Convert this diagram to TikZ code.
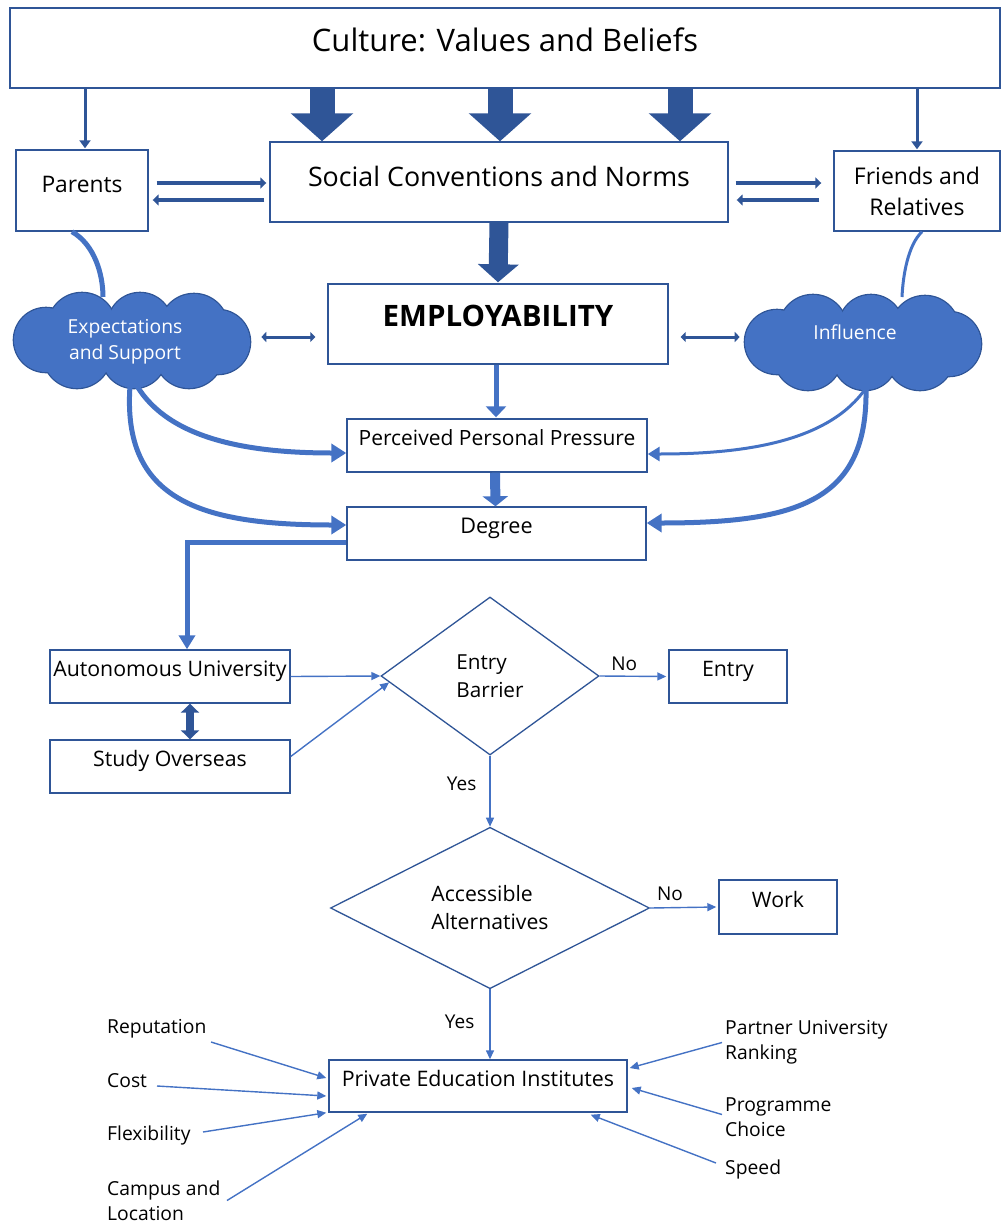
\documentclass[tikz,border=0pt]{standalone}
\usepackage{fontspec}
\setmainfont{Open Sans}
\usetikzlibrary{arrows.meta,shapes.geometric,calc}
\definecolor{navy}{HTML}{2F5597}
\definecolor{mid}{HTML}{4472C4}

\begin{document}
\begin{tikzpicture}[x=1pt,y=-1pt,
  fs/.style 2 args={font=\fontsize{#1}{#2}\selectfont},
  box/.style={draw=navy, line width=1.4pt, fill=white, inner sep=0pt,
    align=center, text height=10pt, text depth=10pt},
  drop/.style={text height=10pt+#1, text depth=10pt-#1},
  mlbox/.style={draw=navy, line width=1.4pt, fill=white, inner sep=0pt, align=center},
  cloudtext/.style={text=white, inner sep=0pt, align=center, fs={19.3}{26}},
  gate/.style={diamond, draw=navy, line width=1.3pt, fill=white, inner sep=0pt, align=left},
  lbl/.style={inner sep=0pt, align=left, anchor=west, fs={19.3}{25}},
  yn/.style={inner sep=0pt, fs={19}{22}},
  bigarrow/.style={draw=navy, line width=25pt, -{Triangle[length=28pt,width=61pt]}},
  midarrow/.style={draw=navy, line width=19pt, -{Triangle[length=18pt,width=40pt]}},
  droparrow/.style={draw=navy, line width=3pt, -{Triangle[length=8pt,width=11pt]}},
  pairarrow/.style={draw=navy, line width=4.5pt, -{Triangle[length=6pt,width=11pt]}},
  twoway/.style={draw=navy, line width=3pt, {Triangle[length=5pt,width=10pt]}-{Triangle[length=5pt,width=10pt]}},
  tie/.style={draw=mid, line width=5pt},
  curvearrow/.style={draw=mid, line width=5pt, -{Triangle[length=15pt,width=18pt]}},
  curvethin/.style={draw=mid, line width=3pt, -{Triangle[length=12pt,width=14pt]}},
  flow/.style={draw=mid, line width=1.4pt, -{Triangle[length=9pt,width=8pt]}},
  % a cloud built from overlapping puffs: outline first, then fill over the seams
  cloudblob/.pic={
    \foreach \cx/\cy/\r in {-50/-13/34, 8/-15/32, 62/-12/34, -86/0/32, 86/2/32,
                            -55/14/34, 2/16/32, 57/14/34}
      \filldraw[draw=navy, line width=2.6pt, fill=mid] (\cx,\cy) circle[radius=\r pt];
    \foreach \cx/\cy/\r in {-50/-13/34, 8/-15/32, 62/-12/34, -86/0/32, 86/2/32,
                            -55/14/34, 2/16/32, 57/14/34}
      \fill[mid] (\cx,\cy) circle[radius=\r pt];
    \fill[mid] (0,0) ellipse[x radius=80pt, y radius=30pt];
  },
]
\useasboundingbox (0,0) rectangle (1002,1223);

% ---- top: culture, norms and social circle ----
\node[box, drop=4pt, fs={31}{36}, minimum width=990pt, minimum height=80pt] (culture) at (505,48) {Culture: Values and Beliefs};
\node[box, drop=4pt, fs={26.8}{32}, minimum width=458pt, minimum height=80pt] (social) at (499,182) {Social Conventions and Norms};
\node[box, drop=2pt, fs={22.8}{26}, minimum width=132pt, minimum height=81pt] (parents) at (82,190.5) {Parents};
\node[mlbox, fs={23}{31}, minimum width=166pt, minimum height=80pt] (friends) at (917,191) {Friends and\\Relatives};

\draw[bigarrow] ($(culture.south)+(-183,0)$) -- ($(social.north)+(-177,0)$);
\draw[bigarrow] ($(culture.south)+(-5,0)$) -- ($(social.north)+(1,0)$);
\draw[bigarrow] ($(culture.south)+(175,0)$) -- ($(social.north)+(181,0)$);
\draw[droparrow] ($(culture.south -| parents.north)+(3,0)$) -- ($(parents.north)+(3,-1)$);
\draw[droparrow] (culture.south -| friends.north) -- ($(friends.north)+(0,-1)$);

\draw[pairarrow] ($(parents.east)+(8,-7.5)$) -- ($(social.west |- parents.east)+(-3,-7.5)$);
\draw[pairarrow] ($(social.west |- parents.east)+(-5,9.5)$) -- ($(parents.east)+(4,9.5)$);
\draw[pairarrow] ($(social.east |- friends.west)+(7,-8)$) -- ($(friends.west)+(-12,-8)$);
\draw[pairarrow] ($(friends.west)+(-14,9)$) -- ($(social.east |- friends.west)+(8,9)$);

% ---- employability and the two clouds ----
\node[box, drop=2pt, font=\bfseries\fontsize{29.5}{34}\selectfont, minimum width=340pt, minimum height=80pt] (employ) at (498,324) {EMPLOYABILITY};
\draw[midarrow] (social.south) -- ($(employ.north)+(0,-1)$);

\coordinate (lc) at (132,340);
\coordinate (rc) at (863,342);
\pic at (lc) {cloudblob};
\pic at (rc) {cloudblob};
\node[cloudtext] (lcloud) at ($(lc)+(-7,2)$) {Expectations\\and Support};
\node[cloudtext] (rcloud) at ($(rc)+(-8,-10)$) {Influence};

\draw[tie] ($(parents.south)+(-10,0)$) .. controls (95,245) and (103,275) .. ($(lc)+(-29,-43)$);
\draw[draw=mid, line width=3pt] ($(friends.south)+(5,0)$) .. controls (908,245) and (903,275) .. ($(rc)+(39,-45)$);

\draw[twoway] ($(employ.west)+(-66,13)$) -- ($(employ.west)+(-12,13)$);
\draw[twoway] ($(employ.east)+(12,13)$) -- ($(employ.east)+(71,13)$);

% ---- pressure and degree ----
\node[box, fs={21}{24}, minimum width=300pt, minimum height=53pt] (pressure) at (497,445.5) {Perceived Personal Pressure};
\node[box, fs={21.6}{24}, minimum width=299pt, minimum height=53pt] (degree) at (496.5,533.5) {Degree};

\draw[draw=mid, line width=5pt, -{Triangle[length=11pt,width=20pt]}] ($(employ.south)+(-2,0)$) -- ($(pressure.north)+(-1,-1)$);
\draw[draw=mid, line width=10pt, -{Triangle[length=10pt,width=25pt]}] ($(pressure.south)+(-2,0)$) -- ($(degree.north)+(-1,0)$);

\draw[curvearrow] ($(lc)+(5,46)$) .. controls (170,440) and (250,453) .. ($(pressure.west)+(0,7.5)$);
\draw[curvearrow] ($(lc)+(-2,46)$) .. controls (122,500) and (200,525) .. ($(degree.west)+(0,-8.5)$);
\draw[curvethin] ($(rc)+(3,46)$) .. controls (830,440) and (750,454) .. ($(pressure.east)+(0,8.5)$);
\draw[curvearrow] ($(rc)+(3,46)$) .. controls (868,500) and (800,523) .. ($(degree.east)+(0,-10.5)$);

% ---- university routes ----
\node[box, fs={21.3}{24}, minimum width=240pt, minimum height=53pt] (auto) at (170,676.5) {Autonomous University};
\node[box, fs={21.3}{24}, minimum width=240pt, minimum height=53pt] (study) at (170,766.5) {Study Overseas};
\draw[draw=mid, line width=5pt, -{Triangle[length=14pt,width=16pt]}] ($(degree.west)+(0,8.5)$) -| ($(auto.north)+(17,0)$);
\draw[draw=navy, line width=8pt, {Triangle[length=9pt,width=18pt]}-{Triangle[length=9pt,width=18pt]}] ($(auto.south)+(20,0)$) -- ($(study.north)+(20,0)$);

\node[gate, fs={20.7}{28}, minimum width=218pt, minimum height=158pt] (barrier) at (490,676) {Entry\\Barrier};
\node[box, fs={21.3}{24}, minimum width=118pt, minimum height=53pt] (entry) at (728,676.5) {Entry};
\draw[flow] (auto.east) -- (barrier.west);
\draw[flow] ($(study.east)+(0,-10)$) -- ($(barrier.west)!0.08!(barrier.south)$);
\draw[flow] (barrier.east) -- ($(entry.west)+(-2,0)$) node[yn, pos=0.37, above=5pt] (no1) {No};

\node[gate, fs={21.2}{28}, minimum width=319pt, minimum height=160pt] (access) at (490,908) {Accessible\\Alternatives};
\node[box, fs={21.3}{24}, minimum width=118pt, minimum height=54pt] (work) at (778,907) {Work};
\draw[flow] (barrier.south) -- (access.north) node[yn, pos=0.4, left=13pt] (yes1) {Yes};
\draw[flow] (access.east) -- ($(work.west)+(-2,0)$) node[yn, pos=0.3, above=6pt] (no2) {No};

% ---- private education and its factors ----
\node[box, fs={21.4}{24}, minimum width=298pt, minimum height=52pt] (private) at (478,1086) {Private Education Institutes};
\draw[flow] (access.south) -- (access.south |- private.north) node[yn, pos=0.47, left=15pt] (yes2) {Yes};

\node[lbl] (rep) at (107,1029) {Reputation};
\node[lbl] (cost) at (107,1081) {Cost};
\node[lbl] (flex) at (107,1135) {Flexibility};
\node[lbl] (campus) at (107,1200.5) {Campus and\\Location};
\node[lbl] (partner) at (725,1042.5) {Partner University\\Ranking};
\node[lbl] (prog) at (725,1117.5) {Programme\\Choice};
\node[lbl] (speed) at (725,1169) {Speed};

\draw[flow] ($(rep.west)+(104,13)$) -- ($(private.west)+(-2,-8)$);
\draw[flow] ($(cost.west)+(50,5)$) -- ($(private.west)+(-2,10)$);
\draw[flow] ($(flex.west)+(96,-3)$) -- ($(private.south west)+(-2,0)$);
\draw[flow] ($(campus.west)+(120,0)$) -- ($(private.south west)+(39,1)$);
\draw[flow] ($(partner.west)+(-3,0)$) -- ($(private.east)+(2,-18)$);
\draw[flow] ($(prog.west)+(-3,-3)$) -- ($(private.east)+(4,2)$);
\draw[flow] ($(speed.west)+(-9,-6)$) -- ($(private.south east)+(-37,2)$);
\end{tikzpicture}
\end{document}
